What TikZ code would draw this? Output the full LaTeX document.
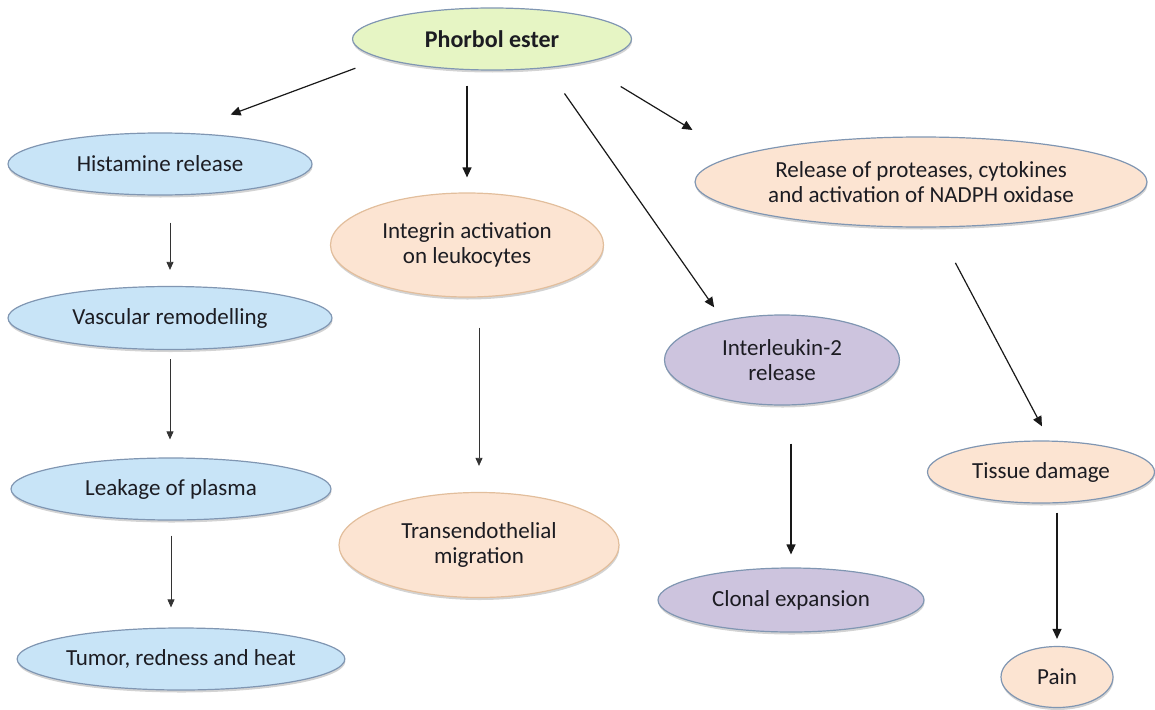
\documentclass[tikz,border=0pt]{standalone}
\usepackage{fontspec}
\setmainfont{Carlito}
\usetikzlibrary{arrows.meta,shapes.geometric,shadows}
\definecolor{limefill}{RGB}{230,245,196}
\definecolor{skyfill}{RGB}{200,228,247}
\definecolor{peachfill}{RGB}{252,228,210}
\definecolor{lilacfill}{RGB}{205,196,222}
\definecolor{edgegray}{RGB}{128,150,178}
\definecolor{edgetan}{RGB}{226,190,156}
\definecolor{inkdark}{RGB}{28,28,34}
\tikzset{
  event/.style={ellipse,draw=edgegray,line width=1.2pt,text=inkdark,align=center,inner sep=1pt,
    font=\fontsize{23}{25}\selectfont,
    drop shadow={shadow xshift=0.5pt,shadow yshift=-2.5pt,opacity=0.35,fill=gray}},
  limebub/.style={event,fill=limefill},
  skybub/.style={event,fill=skyfill},
  peachbub/.style={event,fill=peachfill},
  lilacbub/.style={event,fill=lilacfill},
  flow/.style={-{Triangle[width=7pt,length=8pt]},line width=0.8pt,draw=black!80},
  flowbold/.style={-{Triangle[width=9pt,length=10pt]},line width=1.2pt,draw=black!90},
}

\begin{document}
\begin{tikzpicture}[x=1pt,y=-1pt]
  \useasboundingbox (0,0) rectangle (1155,709);
  \node[limebub,minimum width=279pt,minimum height=62pt,font=\fontsize{24}{26}\selectfont\bfseries] (PE) at (492,39) {Phorbol ester};
  % left column
  \node[skybub,minimum width=304pt,minimum height=62pt] (HR) at (160,164) {Histamine release};
  \node[skybub,minimum width=324pt,minimum height=63pt] (VR) at (170,318) {Vascular remodelling};
  \node[skybub,minimum width=320pt,minimum height=62pt] (LP) at (171,489) {Leakage of plasma};
  \node[skybub,minimum width=320pt,minimum height=62pt] (TR) at (181,659) {Tumor, redness and heat};
  % middle column
  \node[peachbub,draw=edgetan,minimum width=273pt,minimum height=104pt] (IA) at (467,245) {Integrin activation\\on leukocytes};
  \node[peachbub,draw=edgetan,minimum width=280pt,minimum height=105pt] (TM) at (479,545) {Transendothelial\\migration};
  % interleukin branch
  \node[lilacbub,minimum width=235pt,minimum height=90pt] (IL) at (782,360) {Interleukin-2\\release};
  \node[lilacbub,minimum width=266pt,minimum height=64pt] (CE) at (791,600) {Clonal expansion};
  % right branch
  \node[peachbub,minimum width=452pt,minimum height=90pt] (RP) at (921,182) {Release of proteases, cytokines\\and activation of NADPH oxidase};
  \node[peachbub,minimum width=227pt,minimum height=62pt] (TD) at (1041,472) {Tissue damage};
  \node[peachbub,minimum width=112pt,minimum height=61pt] (PA) at (1057,677) {Pain};

  \draw[flowbold,shorten <=28pt,shorten >=52pt] (PE.190) -- (HR.55);
  \draw[flowbold,shorten <=15pt,shorten >=15pt] (PE.south -| IA.north) -- (IA.north);
  \draw[flowbold,shorten <=31pt,shorten >=16pt] (PE.-28) -- (IL.146);
  \draw[flowbold,shorten <=45pt,shorten >=50pt] (PE.-15) -- (RP.172);
  \draw[flow,shorten <=27pt,shorten >=16pt] (HR.south -| VR.north) -- (VR.north);
  \draw[flow,shorten <=9pt,shorten >=18pt] (VR.south) -- (VR.south |- LP.north);
  \draw[flow,shorten <=15pt,shorten >=20pt] (LP.south) -- (LP.south |- TR.north);
  \draw[flow,shorten <=30pt,shorten >=26pt] (TM.north |- IA.south) -- (TM.north);
  \draw[flowbold,shorten <=38pt,shorten >=13pt] (CE.north |- IL.south) -- (CE.north);
  \draw[flowbold,shorten <=40pt,shorten >=16pt] (RP.-71) -- (TD.75);
  \draw[flowbold,shorten <=9pt,shorten >=7pt] (PA.north |- TD.south) -- (PA.north);
\end{tikzpicture}
\end{document}
